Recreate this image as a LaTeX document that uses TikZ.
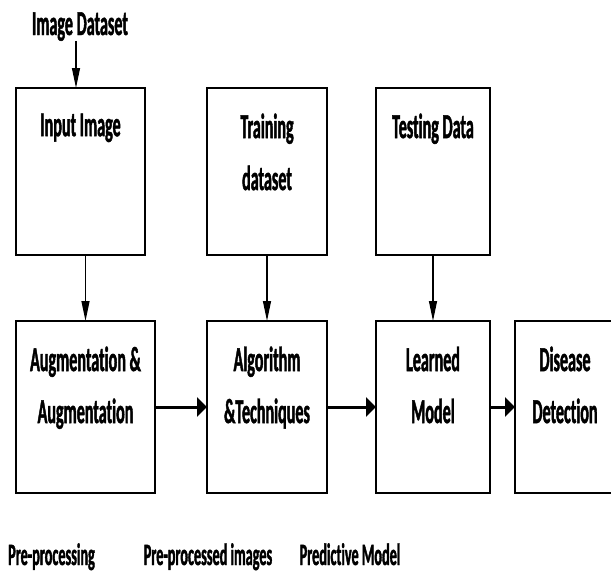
\documentclass[tikz,border=0pt]{standalone}
\usepackage{fontspec}
\setmainfont{Carlito}[FakeStretch=0.46, Ligatures=NoCommon, BoldFeatures={FakeBold=1.2}]
\usepackage{tikz}
\usetikzlibrary{arrows.meta}

\begin{document}
\begin{tikzpicture}[x=1pt,y=-1pt,every node/.style = {font=\bfseries\fontsize{35}{52}\selectfont, align=center, inner sep=0pt, outer sep=0pt},box/.style = {draw, line width=2.2pt},inside/.style = {anchor=north, yshift=-25.5pt},stage/.style = {anchor=base, font=\bfseries\fontsize{31}{34}\selectfont},feed edge/.style = {-{Triangle[length=20pt,width=8pt]}, line width=1.2pt},flow edge/.style = {-{Triangle[length=10pt,width=19pt]}, line width=3pt}]
\useasboundingbox (0,0) rectangle (611,573);
\node[anchor=base](-1;1) at (80,35) {Image Dataset};
  \node[box, minimum width=129pt, minimum height=167pt, label={[inside]north:Input Image}](0;1) at (80.5,171.5) {};
  \node[box, minimum width=120pt, minimum height=167pt, label={[inside]north:Training\\dataset}](0;2) at (267,171.5) {};
  \node[box, minimum width=114pt, minimum height=167pt, label={[inside]north:Testing Data}](0;3) at (433,171.5) {};
     \node[box, minimum width=139pt, minimum height=172pt, label={[inside]north:Augmentation \&\\Augmentation}](1;1) at (85.5,407) {};
     \node[box, minimum width=120pt, minimum height=172pt, label={[inside]north:Algorithm\\\&Techniques}](1;2) at (267,407) {};
     \node[box, minimum width=114pt, minimum height=172pt, label={[inside]north:Learned\\Model}](1;3) at (433,407) {};
     \node[box, minimum width=100pt, minimum height=172pt, label={[inside]north:Disease\\Detection}](1;4) at (565,407) {};
\node[stage](2;1) at (51.5,565) {Pre-processing};
\node[stage](2;2) at (208,565) {Pre-processed images};
\node[stage](2;3) at (350,565) {Predictive Model};
\draw[feed edge] ([xshift=-4pt]-1;1.south) -- ([xshift=-4pt]-1;1.south |- 0;1.north);
\foreach \j in {1,2,3}
  { \draw[feed edge] (1;\j.north |- 0;\j.south) -- (1;\j.north); }
\foreach \j/\k in {1/2,2/3,3/4}
  { \draw[flow edge] (1;\j.east) -- (1;\k.west); }
\end{tikzpicture}
\end{document}
